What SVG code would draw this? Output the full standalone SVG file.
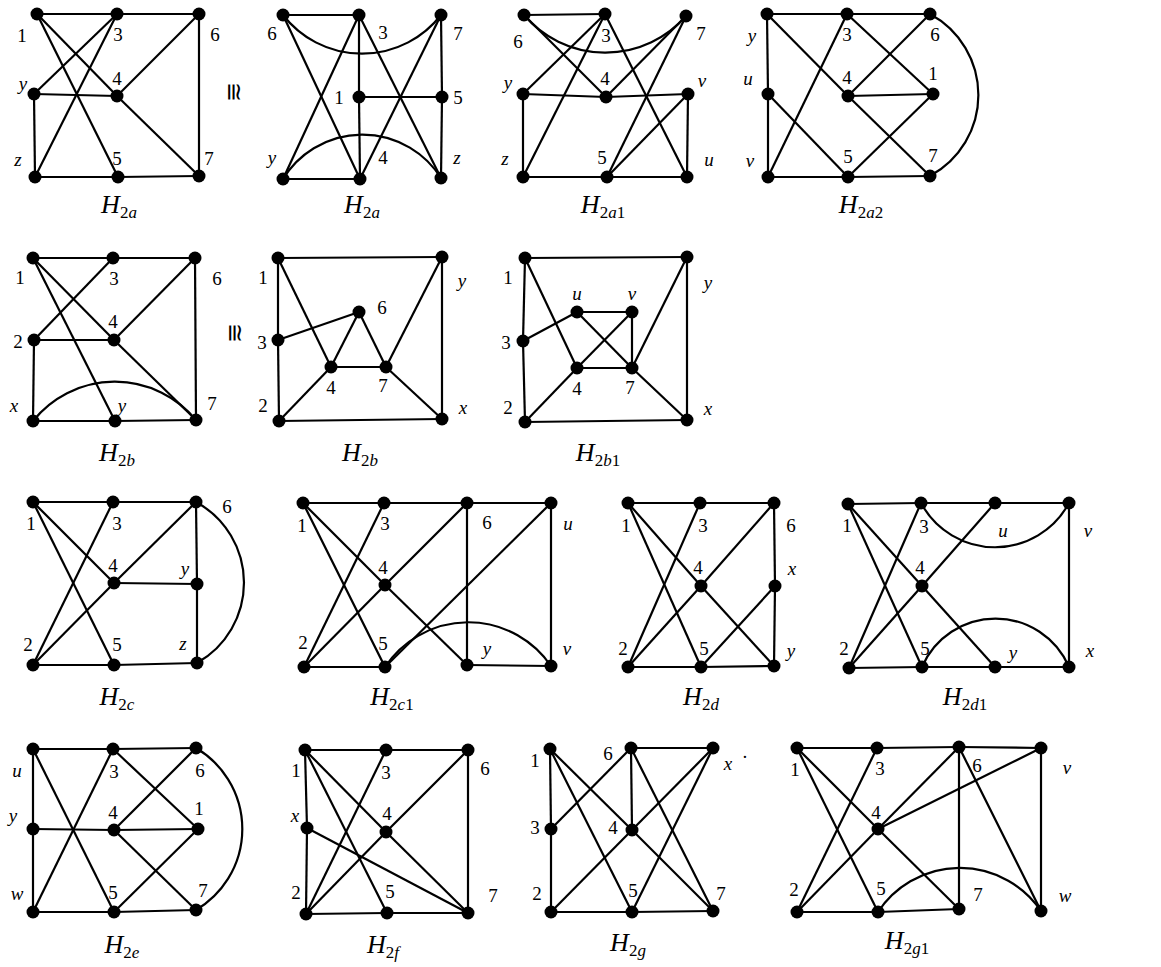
<svg xmlns="http://www.w3.org/2000/svg" width="1161" height="967" viewBox="0 0 1161 967">
<style>
.e line,.e path{stroke:#000;stroke-width:2.2;fill:none}
circle{fill:#000}
text{font-family:"Liberation Serif","DejaVu Serif",serif;fill:#000}
.d{font-size:19px;text-anchor:middle;dominant-baseline:central}
.l{font-size:19px;font-style:italic;text-anchor:middle;dominant-baseline:central}
.t{font-size:26px;font-style:italic;text-anchor:middle}
.s{font-size:17px;font-style:normal}
.si{font-style:italic}
.iso{font-size:24px;text-anchor:middle;dominant-baseline:central}
</style>
<rect width="1161" height="967" fill="#fff"/>

<!-- H2a left -->
<g id="H2a-left">
<g class="e">
<line x1="37" y1="14" x2="117" y2="14"/><line x1="117" y1="14" x2="199" y2="14"/>
<line x1="37" y1="14" x2="117" y2="96"/><line x1="37" y1="14" x2="118" y2="177"/>
<line x1="117" y1="14" x2="34" y2="94"/><line x1="117" y1="14" x2="35" y2="177"/>
<line x1="34" y1="94" x2="117" y2="96"/><line x1="117" y1="96" x2="199" y2="14"/>
<line x1="117" y1="96" x2="199" y2="176"/><line x1="199" y1="14" x2="199" y2="176"/>
<line x1="34" y1="94" x2="35" y2="177"/><line x1="35" y1="177" x2="118" y2="177"/>
<line x1="118" y1="177" x2="199" y2="176"/>
</g>
<g id="a-1"><circle cx="37" cy="14" r="6.5"/><text class="d" x="22" y="35">1</text></g>
<g id="a-3"><circle cx="117" cy="14" r="6.5"/><text class="d" x="118" y="34">3</text></g>
<g id="a-6"><circle cx="199" cy="14" r="6.5"/><text class="d" x="215" y="34">6</text></g>
<g id="a-y"><circle cx="34" cy="94" r="6.5"/><text class="l" x="23" y="83">y</text></g>
<g id="a-4"><circle cx="117" cy="96" r="6.5"/><text class="d" x="117" y="78">4</text></g>
<g id="a-z"><circle cx="35" cy="177" r="6.5"/><text class="l" x="18" y="159">z</text></g>
<g id="a-5"><circle cx="118" cy="177" r="6.5"/><text class="d" x="117" y="158">5</text></g>
<g id="a-7"><circle cx="199" cy="176" r="6.5"/><text class="d" x="209" y="158">7</text></g>
<text class="t" x="119" y="213">H<tspan class="s" dy="5">2<tspan class="si">a</tspan></tspan></text>
</g>
<text class="iso" transform="translate(234,92) rotate(90)">≅</text>

<!-- H2a right -->
<g id="H2a-right">
<g class="e">
<line x1="283" y1="15" x2="359" y2="15"/><line x1="283" y1="15" x2="360" y2="179"/>
<line x1="359" y1="15" x2="283" y2="179"/><line x1="359" y1="15" x2="359" y2="97"/>
<line x1="359" y1="15" x2="441" y2="178"/><line x1="441" y1="15" x2="442" y2="97"/>
<line x1="441" y1="15" x2="360" y2="179"/><line x1="359" y1="97" x2="442" y2="97"/>
<line x1="359" y1="97" x2="360" y2="179"/><line x1="442" y1="97" x2="441" y2="178"/>
<line x1="283" y1="179" x2="360" y2="179"/>
<path d="M283,15 A100,100 0 0 0 441,15"/>
<path d="M283,179 A93,93 0 0 1 441,178"/>
</g>
<g id="b-6"><circle cx="283" cy="15" r="6.5"/><text class="d" x="272" y="33">6</text></g>
<g id="b-3"><circle cx="359" cy="15" r="6.5"/><text class="d" x="383" y="32">3</text></g>
<g id="b-7"><circle cx="441" cy="15" r="6.5"/><text class="d" x="458" y="33">7</text></g>
<g id="b-1"><circle cx="359" cy="97" r="6.5"/><text class="d" x="339" y="97">1</text></g>
<g id="b-5"><circle cx="442" cy="97" r="6.5"/><text class="d" x="458" y="97">5</text></g>
<g id="b-y"><circle cx="283" cy="179" r="6.5"/><text class="l" x="272" y="157">y</text></g>
<g id="b-4"><circle cx="360" cy="179" r="6.5"/><text class="d" x="383" y="157">4</text></g>
<g id="b-z"><circle cx="441" cy="178" r="6.5"/><text class="l" x="457" y="157">z</text></g>
<text class="t" x="362" y="213">H<tspan class="s" dy="5">2<tspan class="si">a</tspan></tspan></text>
</g>

<!-- H2a1 -->
<g id="H2a1">
<g class="e">
<line x1="524" y1="15" x2="605" y2="14"/><line x1="524" y1="15" x2="606" y2="97"/>
<line x1="605" y1="14" x2="523" y2="94"/><line x1="605" y1="14" x2="523" y2="177"/>
<line x1="605" y1="14" x2="687" y2="177"/><line x1="686" y1="16" x2="606" y2="97"/>
<line x1="686" y1="16" x2="607" y2="177"/><line x1="523" y1="94" x2="606" y2="97"/>
<line x1="606" y1="97" x2="688" y2="94"/><line x1="523" y1="94" x2="523" y2="177"/>
<line x1="523" y1="177" x2="607" y2="177"/><line x1="607" y1="177" x2="687" y2="177"/>
<line x1="607" y1="177" x2="688" y2="94"/><line x1="688" y1="94" x2="687" y2="177"/>
<path d="M524,15 A107,107 0 0 0 686,16"/>
</g>
<g id="c-6"><circle cx="524" cy="15" r="6.5"/><text class="d" x="518" y="41">6</text></g>
<g id="c-3"><circle cx="605" cy="14" r="6.5"/><text class="d" x="606" y="35">3</text></g>
<g id="c-7"><circle cx="686" cy="16" r="6.5"/><text class="d" x="701" y="33">7</text></g>
<g id="c-y"><circle cx="523" cy="94" r="6.5"/><text class="l" x="508" y="82">y</text></g>
<g id="c-4"><circle cx="606" cy="97" r="6.5"/><text class="d" x="605" y="78">4</text></g>
<g id="c-v"><circle cx="688" cy="94" r="6.5"/><text class="l" x="702" y="80">v</text></g>
<g id="c-z"><circle cx="523" cy="177" r="6.5"/><text class="l" x="505" y="158">z</text></g>
<g id="c-5"><circle cx="607" cy="177" r="6.5"/><text class="d" x="602" y="157">5</text></g>
<g id="c-u"><circle cx="687" cy="177" r="6.5"/><text class="l" x="709" y="159">u</text></g>
<text class="t" x="603" y="213">H<tspan class="s" dy="5">2<tspan class="si">a</tspan>1</tspan></text>
</g>

<!-- H2a2 -->
<g id="H2a2">
<g class="e">
<line x1="767" y1="14" x2="847" y2="14"/><line x1="847" y1="14" x2="930" y2="14"/>
<line x1="767" y1="14" x2="848" y2="96"/><line x1="767" y1="14" x2="768" y2="94"/>
<line x1="768" y1="94" x2="768" y2="177"/><line x1="847" y1="14" x2="768" y2="177"/>
<line x1="847" y1="14" x2="933" y2="94"/><line x1="930" y1="14" x2="848" y2="96"/>
<line x1="848" y1="96" x2="933" y2="94"/><line x1="848" y1="96" x2="930" y2="176"/>
<line x1="768" y1="94" x2="848" y2="177"/><line x1="848" y1="177" x2="933" y2="94"/>
<line x1="768" y1="177" x2="848" y2="177"/><line x1="848" y1="177" x2="930" y2="176"/>
<path d="M930,14 A92,92 0 0 1 930,176"/>
</g>
<g id="d-y"><circle cx="767" cy="14" r="6.5"/><text class="l" x="752" y="35">y</text></g>
<g id="d-3"><circle cx="847" cy="14" r="6.5"/><text class="d" x="847" y="34">3</text></g>
<g id="d-6"><circle cx="930" cy="14" r="6.5"/><text class="d" x="935" y="34">6</text></g>
<g id="d-u"><circle cx="768" cy="94" r="6.5"/><text class="l" x="748" y="78">u</text></g>
<g id="d-4"><circle cx="848" cy="96" r="6.5"/><text class="d" x="847" y="77">4</text></g>
<g id="d-1"><circle cx="933" cy="94" r="6.5"/><text class="d" x="933" y="73">1</text></g>
<g id="d-v"><circle cx="768" cy="177" r="6.5"/><text class="l" x="750" y="160">v</text></g>
<g id="d-5"><circle cx="848" cy="177" r="6.5"/><text class="d" x="848" y="156">5</text></g>
<g id="d-7"><circle cx="930" cy="176" r="6.5"/><text class="d" x="933" y="155">7</text></g>
<text class="t" x="861" y="213">H<tspan class="s" dy="5">2<tspan class="si">a</tspan>2</tspan></text>
</g>

<!-- H2b left -->
<g id="H2b-left">
<g class="e">
<line x1="33" y1="258" x2="113" y2="258"/><line x1="113" y1="258" x2="195" y2="258"/>
<line x1="33" y1="258" x2="114" y2="340"/><line x1="33" y1="258" x2="115" y2="421"/>
<line x1="113" y1="258" x2="34" y2="340"/><line x1="34" y1="340" x2="114" y2="340"/>
<line x1="114" y1="340" x2="195" y2="258"/><line x1="114" y1="340" x2="196" y2="420"/>
<line x1="195" y1="258" x2="196" y2="420"/><line x1="34" y1="340" x2="33" y2="421"/>
<line x1="33" y1="421" x2="115" y2="421"/><line x1="115" y1="421" x2="196" y2="420"/>
<path d="M33,421 A105,105 0 0 1 196,420"/>
</g>
<g id="e-1"><circle cx="33" cy="258" r="6.5"/><text class="d" x="20" y="277">1</text></g>
<g id="e-3"><circle cx="113" cy="258" r="6.5"/><text class="d" x="114" y="278">3</text></g>
<g id="e-6"><circle cx="195" cy="258" r="6.5"/><text class="d" x="217" y="278">6</text></g>
<g id="e-2"><circle cx="34" cy="340" r="6.5"/><text class="d" x="18" y="341">2</text></g>
<g id="e-4"><circle cx="114" cy="340" r="6.5"/><text class="d" x="113" y="321">4</text></g>
<g id="e-x"><circle cx="33" cy="421" r="6.5"/><text class="l" x="14" y="405">x</text></g>
<g id="e-y"><circle cx="115" cy="421" r="6.5"/><text class="l" x="122" y="405">y</text></g>
<g id="e-7"><circle cx="196" cy="420" r="6.5"/><text class="d" x="212" y="403">7</text></g>
<text class="t" x="117" y="461">H<tspan class="s" dy="5">2<tspan class="si">b</tspan></tspan></text>
</g>
<text class="iso" transform="translate(235,333) rotate(90)">≅</text>

<!-- H2b right -->
<g id="H2b-right">
<g class="e">
<line x1="278" y1="258" x2="442" y2="257"/><line x1="278" y1="258" x2="278" y2="340"/>
<line x1="278" y1="340" x2="279" y2="421"/><line x1="278" y1="258" x2="331" y2="367"/>
<line x1="278" y1="340" x2="359" y2="312"/><line x1="359" y1="312" x2="331" y2="367"/>
<line x1="359" y1="312" x2="386" y2="367"/><line x1="331" y1="367" x2="386" y2="367"/>
<line x1="442" y1="257" x2="386" y2="367"/><line x1="442" y1="257" x2="442" y2="419"/>
<line x1="279" y1="421" x2="331" y2="367"/><line x1="386" y1="367" x2="442" y2="419"/>
<line x1="279" y1="421" x2="442" y2="419"/>
</g>
<g id="f-1"><circle cx="278" cy="258" r="6.5"/><text class="d" x="263" y="277">1</text></g>
<g id="f-y"><circle cx="442" cy="257" r="6.5"/><text class="l" x="462" y="280">y</text></g>
<g id="f-3"><circle cx="278" cy="340" r="6.5"/><text class="d" x="262" y="342">3</text></g>
<g id="f-6"><circle cx="359" cy="312" r="6.5"/><text class="d" x="382" y="307">6</text></g>
<g id="f-4"><circle cx="331" cy="367" r="6.5"/><text class="d" x="331" y="387">4</text></g>
<g id="f-7"><circle cx="386" cy="367" r="6.5"/><text class="d" x="383" y="385">7</text></g>
<g id="f-2"><circle cx="279" cy="421" r="6.5"/><text class="d" x="263" y="405">2</text></g>
<g id="f-x"><circle cx="442" cy="419" r="6.5"/><text class="l" x="463" y="407">x</text></g>
<text class="t" x="360" y="461">H<tspan class="s" dy="5">2<tspan class="si">b</tspan></tspan></text>
</g>

<!-- H2b1 -->
<g id="H2b1">
<g class="e">
<line x1="525" y1="258" x2="687" y2="257"/><line x1="525" y1="258" x2="523" y2="341"/>
<line x1="525" y1="258" x2="577" y2="368"/><line x1="523" y1="341" x2="525" y2="422"/>
<line x1="523" y1="341" x2="577" y2="312"/><line x1="577" y1="312" x2="632" y2="312"/>
<line x1="577" y1="312" x2="632" y2="368"/><line x1="632" y1="312" x2="577" y2="368"/>
<line x1="632" y1="312" x2="632" y2="368"/><line x1="577" y1="368" x2="632" y2="368"/>
<line x1="687" y1="257" x2="632" y2="368"/><line x1="687" y1="257" x2="687" y2="420"/>
<line x1="525" y1="422" x2="577" y2="368"/><line x1="632" y1="368" x2="687" y2="420"/>
<line x1="525" y1="422" x2="687" y2="420"/>
</g>
<g id="g-1"><circle cx="525" cy="258" r="6.5"/><text class="d" x="508" y="277">1</text></g>
<g id="g-y"><circle cx="687" cy="257" r="6.5"/><text class="l" x="708" y="282">y</text></g>
<g id="g-3"><circle cx="523" cy="341" r="6.5"/><text class="d" x="506" y="342">3</text></g>
<g id="g-u"><circle cx="577" cy="312" r="6.5"/><text class="l" x="577" y="293">u</text></g>
<g id="g-v"><circle cx="632" cy="312" r="6.5"/><text class="l" x="632" y="293">v</text></g>
<g id="g-4"><circle cx="577" cy="368" r="6.5"/><text class="d" x="577" y="388">4</text></g>
<g id="g-7"><circle cx="632" cy="368" r="6.5"/><text class="d" x="630" y="387">7</text></g>
<g id="g-2"><circle cx="525" cy="422" r="6.5"/><text class="d" x="508" y="407">2</text></g>
<g id="g-x"><circle cx="687" cy="420" r="6.5"/><text class="l" x="708" y="408">x</text></g>
<text class="t" x="598" y="461">H<tspan class="s" dy="5">2<tspan class="si">b</tspan>1</tspan></text>
</g>

<!-- H2c -->
<g id="H2c">
<g class="e">
<line x1="33" y1="502" x2="113" y2="502"/><line x1="113" y1="502" x2="196" y2="502"/>
<line x1="33" y1="502" x2="114" y2="583"/><line x1="33" y1="502" x2="114" y2="665"/>
<line x1="113" y1="502" x2="33" y2="665"/><line x1="33" y1="665" x2="114" y2="583"/>
<line x1="114" y1="583" x2="196" y2="502"/><line x1="114" y1="583" x2="197" y2="584"/>
<line x1="196" y1="502" x2="197" y2="584"/><line x1="197" y1="584" x2="197" y2="663"/>
<line x1="33" y1="665" x2="114" y2="665"/><line x1="114" y1="665" x2="197" y2="663"/>
<path d="M196,502 A92,92 0 0 1 197,663"/>
</g>
<g id="h-1"><circle cx="33" cy="502" r="6.5"/><text class="d" x="31" y="523">1</text></g>
<g id="h-3"><circle cx="113" cy="502" r="6.5"/><text class="d" x="117" y="523">3</text></g>
<g id="h-6"><circle cx="196" cy="502" r="6.5"/><text class="d" x="227" y="506">6</text></g>
<g id="h-4"><circle cx="114" cy="583" r="6.5"/><text class="d" x="113" y="565">4</text></g>
<g id="h-y"><circle cx="197" cy="584" r="6.5"/><text class="l" x="185" y="568">y</text></g>
<g id="h-2"><circle cx="33" cy="665" r="6.5"/><text class="d" x="28" y="644">2</text></g>
<g id="h-5"><circle cx="114" cy="665" r="6.5"/><text class="d" x="117" y="644">5</text></g>
<g id="h-z"><circle cx="197" cy="663" r="6.5"/><text class="l" x="183" y="643">z</text></g>
<text class="t" x="117" y="705">H<tspan class="s" dy="5">2<tspan class="si">c</tspan></tspan></text>
</g>

<!-- H2c1 -->
<g id="H2c1">
<g class="e">
<line x1="303" y1="503" x2="384" y2="503"/><line x1="384" y1="503" x2="467" y2="503"/>
<line x1="467" y1="503" x2="551" y2="503"/><line x1="303" y1="503" x2="385" y2="585"/>
<line x1="303" y1="503" x2="385" y2="667"/><line x1="384" y1="503" x2="304" y2="667"/>
<line x1="304" y1="667" x2="385" y2="585"/><line x1="385" y1="585" x2="467" y2="503"/>
<line x1="385" y1="585" x2="467" y2="665"/><line x1="467" y1="503" x2="467" y2="665"/>
<line x1="551" y1="503" x2="385" y2="667"/><line x1="551" y1="503" x2="551" y2="666"/>
<line x1="304" y1="667" x2="385" y2="667"/><line x1="467" y1="665" x2="551" y2="666"/>
<path d="M385,667 A100,100 0 0 1 551,666"/>
</g>
<g id="i-1"><circle cx="303" cy="503" r="6.5"/><text class="d" x="302" y="525">1</text></g>
<g id="i-3"><circle cx="384" cy="503" r="6.5"/><text class="d" x="385" y="523">3</text></g>
<g id="i-6"><circle cx="467" cy="503" r="6.5"/><text class="d" x="487" y="522">6</text></g>
<g id="i-u"><circle cx="551" cy="503" r="6.5"/><text class="l" x="568" y="523">u</text></g>
<g id="i-4"><circle cx="385" cy="585" r="6.5"/><text class="d" x="383" y="567">4</text></g>
<g id="i-2"><circle cx="304" cy="667" r="6.5"/><text class="d" x="303" y="642">2</text></g>
<g id="i-5"><circle cx="385" cy="667" r="6.5"/><text class="d" x="383" y="643">5</text></g>
<g id="i-y"><circle cx="467" cy="665" r="6.5"/><text class="l" x="487" y="648">y</text></g>
<g id="i-v"><circle cx="551" cy="666" r="6.5"/><text class="l" x="567" y="648">v</text></g>
<text class="t" x="392" y="705">H<tspan class="s" dy="5">2<tspan class="si">c</tspan>1</tspan></text>
</g>

<!-- H2d -->
<g id="H2d">
<g class="e">
<line x1="628" y1="503" x2="700" y2="503"/><line x1="700" y1="503" x2="774" y2="503"/>
<line x1="628" y1="503" x2="701" y2="586"/><line x1="628" y1="503" x2="701" y2="667"/>
<line x1="700" y1="503" x2="628" y2="667"/><line x1="628" y1="667" x2="701" y2="586"/>
<line x1="701" y1="586" x2="774" y2="503"/><line x1="701" y1="586" x2="774" y2="666"/>
<line x1="774" y1="503" x2="775" y2="586"/><line x1="775" y1="586" x2="774" y2="666"/>
<line x1="775" y1="586" x2="701" y2="667"/><line x1="628" y1="667" x2="701" y2="667"/>
<line x1="701" y1="667" x2="774" y2="666"/>
</g>
<g id="j-1"><circle cx="628" cy="503" r="6.5"/><text class="d" x="626" y="525">1</text></g>
<g id="j-3"><circle cx="700" cy="503" r="6.5"/><text class="d" x="703" y="525">3</text></g>
<g id="j-6"><circle cx="774" cy="503" r="6.5"/><text class="d" x="791" y="525">6</text></g>
<g id="j-4"><circle cx="701" cy="586" r="6.5"/><text class="d" x="698" y="567">4</text></g>
<g id="j-x"><circle cx="775" cy="586" r="6.5"/><text class="l" x="792" y="568">x</text></g>
<g id="j-2"><circle cx="628" cy="667" r="6.5"/><text class="d" x="623" y="648">2</text></g>
<g id="j-5"><circle cx="701" cy="667" r="6.5"/><text class="d" x="704" y="648">5</text></g>
<g id="j-y"><circle cx="774" cy="666" r="6.5"/><text class="l" x="791" y="650">y</text></g>
<text class="t" x="701" y="705">H<tspan class="s" dy="5">2<tspan class="si">d</tspan></tspan></text>
</g>

<!-- H2d1 -->
<g id="H2d1">
<g class="e">
<line x1="848" y1="504" x2="921" y2="503"/><line x1="921" y1="503" x2="995" y2="503"/>
<line x1="995" y1="503" x2="1069" y2="503"/><line x1="848" y1="504" x2="922" y2="586"/>
<line x1="848" y1="504" x2="922" y2="667"/><line x1="921" y1="503" x2="849" y2="668"/>
<line x1="849" y1="668" x2="922" y2="586"/><line x1="922" y1="586" x2="995" y2="503"/>
<line x1="922" y1="586" x2="995" y2="667"/><line x1="1069" y1="503" x2="1069" y2="667"/>
<line x1="849" y1="668" x2="922" y2="667"/><line x1="922" y1="667" x2="995" y2="667"/>
<line x1="995" y1="667" x2="1069" y2="667"/>
<path d="M921,503 A84,84 0 0 0 1069,503"/>
<path d="M922,667 A80,80 0 0 1 1069,667"/>
</g>
<g id="k-1"><circle cx="848" cy="504" r="6.5"/><text class="d" x="847" y="525">1</text></g>
<g id="k-3"><circle cx="921" cy="503" r="6.5"/><text class="d" x="924" y="526">3</text></g>
<g id="k-u"><circle cx="995" cy="503" r="6.5"/><text class="l" x="1003" y="530">u</text></g>
<g id="k-v"><circle cx="1069" cy="503" r="6.5"/><text class="l" x="1088" y="530">v</text></g>
<g id="k-4"><circle cx="922" cy="586" r="6.5"/><text class="d" x="920" y="567">4</text></g>
<g id="k-2"><circle cx="849" cy="668" r="6.5"/><text class="d" x="844" y="648">2</text></g>
<g id="k-5"><circle cx="922" cy="667" r="6.5"/><text class="d" x="925" y="648">5</text></g>
<g id="k-y"><circle cx="995" cy="667" r="6.5"/><text class="l" x="1013" y="652">y</text></g>
<g id="k-x"><circle cx="1069" cy="667" r="6.5"/><text class="l" x="1090" y="650">x</text></g>
<text class="t" x="965" y="705">H<tspan class="s" dy="5">2<tspan class="si">d</tspan>1</tspan></text>
</g>

<!-- H2e -->
<g id="H2e">
<g class="e">
<line x1="33" y1="749" x2="113" y2="749"/><line x1="113" y1="749" x2="196" y2="748"/>
<line x1="33" y1="749" x2="114" y2="912"/><line x1="33" y1="749" x2="33" y2="829"/>
<line x1="33" y1="829" x2="33" y2="912"/><line x1="113" y1="749" x2="33" y2="912"/>
<line x1="113" y1="749" x2="198" y2="829"/><line x1="33" y1="829" x2="114" y2="830"/>
<line x1="114" y1="830" x2="198" y2="829"/><line x1="114" y1="830" x2="196" y2="748"/>
<line x1="114" y1="830" x2="196" y2="910"/><line x1="114" y1="912" x2="198" y2="829"/>
<line x1="33" y1="912" x2="114" y2="912"/><line x1="114" y1="912" x2="196" y2="910"/>
<path d="M196,748 A94,94 0 0 1 196,910"/>
</g>
<g id="l-u"><circle cx="33" cy="749" r="6.5"/><text class="l" x="17" y="770">u</text></g>
<g id="l-3"><circle cx="113" cy="749" r="6.5"/><text class="d" x="114" y="771">3</text></g>
<g id="l-6"><circle cx="196" cy="748" r="6.5"/><text class="d" x="200" y="770">6</text></g>
<g id="l-y"><circle cx="33" cy="829" r="6.5"/><text class="l" x="13" y="815">y</text></g>
<g id="l-4"><circle cx="114" cy="830" r="6.5"/><text class="d" x="113" y="812">4</text></g>
<g id="l-1"><circle cx="198" cy="829" r="6.5"/><text class="d" x="199" y="808">1</text></g>
<g id="l-w"><circle cx="33" cy="912" r="6.5"/><text class="l" x="17" y="893">w</text></g>
<g id="l-5"><circle cx="114" cy="912" r="6.5"/><text class="d" x="113" y="892">5</text></g>
<g id="l-7"><circle cx="196" cy="910" r="6.5"/><text class="d" x="203" y="890">7</text></g>
<text class="t" x="122" y="953">H<tspan class="s" dy="5">2<tspan class="si">e</tspan></tspan></text>
</g>

<!-- H2f -->
<g id="H2f">
<g class="e">
<line x1="305" y1="750" x2="386" y2="750"/><line x1="386" y1="750" x2="468" y2="750"/>
<line x1="305" y1="750" x2="307" y2="828"/><line x1="307" y1="828" x2="306" y2="914"/>
<line x1="305" y1="750" x2="386" y2="832"/><line x1="305" y1="750" x2="387" y2="913"/>
<line x1="386" y1="750" x2="306" y2="914"/><line x1="306" y1="914" x2="386" y2="832"/>
<line x1="386" y1="832" x2="468" y2="750"/><line x1="386" y1="832" x2="468" y2="913"/>
<line x1="307" y1="828" x2="468" y2="913"/><line x1="468" y1="750" x2="468" y2="913"/>
<line x1="306" y1="914" x2="387" y2="913"/><line x1="387" y1="913" x2="468" y2="913"/>
</g>
<g id="m-1"><circle cx="305" cy="750" r="6.5"/><text class="d" x="296" y="770">1</text></g>
<g id="m-3"><circle cx="386" cy="750" r="6.5"/><text class="d" x="386" y="772">3</text></g>
<g id="m-6"><circle cx="468" cy="750" r="6.5"/><text class="d" x="485" y="768">6</text></g>
<g id="m-x"><circle cx="307" cy="828" r="6.5"/><text class="l" x="295" y="815">x</text></g>
<g id="m-4"><circle cx="386" cy="832" r="6.5"/><text class="d" x="387" y="813">4</text></g>
<g id="m-2"><circle cx="306" cy="914" r="6.5"/><text class="d" x="296" y="892">2</text></g>
<g id="m-5"><circle cx="387" cy="913" r="6.5"/><text class="d" x="390" y="891">5</text></g>
<g id="m-7"><circle cx="468" cy="913" r="6.5"/><text class="d" x="493" y="895">7</text></g>
<text class="t" x="383" y="953">H<tspan class="s" dy="5">2<tspan class="si">f</tspan></tspan></text>
</g>

<!-- H2g -->
<g id="H2g">
<g class="e">
<line x1="550" y1="749" x2="551" y2="829"/><line x1="551" y1="829" x2="551" y2="912"/>
<line x1="550" y1="749" x2="632" y2="830"/><line x1="550" y1="749" x2="632" y2="912"/>
<line x1="551" y1="829" x2="631" y2="748"/><line x1="631" y1="748" x2="713" y2="748"/>
<line x1="631" y1="748" x2="632" y2="830"/><line x1="631" y1="748" x2="713" y2="911"/>
<line x1="713" y1="748" x2="632" y2="830"/><line x1="713" y1="748" x2="632" y2="912"/>
<line x1="551" y1="912" x2="632" y2="830"/><line x1="632" y1="830" x2="713" y2="911"/>
<line x1="551" y1="912" x2="632" y2="912"/><line x1="632" y1="912" x2="713" y2="911"/>
</g>
<g id="n-1"><circle cx="550" cy="749" r="6.5"/><text class="d" x="535" y="760">1</text></g>
<g id="n-6"><circle cx="631" cy="748" r="6.5"/><text class="d" x="608" y="753">6</text></g>
<g id="n-x"><circle cx="713" cy="748" r="6.5"/><text class="l" x="728" y="763">x</text><text class="d" x="745" y="756">·</text></g>
<g id="n-3"><circle cx="551" cy="829" r="6.5"/><text class="d" x="535" y="827">3</text></g>
<g id="n-4"><circle cx="632" cy="830" r="6.5"/><text class="d" x="613" y="827">4</text></g>
<g id="n-2"><circle cx="551" cy="912" r="6.5"/><text class="d" x="537" y="893">2</text></g>
<g id="n-5"><circle cx="632" cy="912" r="6.5"/><text class="d" x="633" y="890">5</text></g>
<g id="n-7"><circle cx="713" cy="911" r="6.5"/><text class="d" x="721" y="893">7</text></g>
<text class="t" x="628" y="951">H<tspan class="s" dy="5">2<tspan class="si">g</tspan></tspan></text>
</g>

<!-- H2g1 -->
<g id="H2g1">
<g class="e">
<line x1="797" y1="748" x2="877" y2="748"/><line x1="877" y1="748" x2="959" y2="747"/>
<line x1="959" y1="747" x2="1041" y2="748"/><line x1="797" y1="748" x2="878" y2="829"/>
<line x1="797" y1="748" x2="878" y2="912"/><line x1="877" y1="748" x2="797" y2="912"/>
<line x1="797" y1="912" x2="878" y2="829"/><line x1="878" y1="829" x2="959" y2="747"/>
<line x1="878" y1="829" x2="1041" y2="748"/><line x1="878" y1="829" x2="959" y2="909"/>
<line x1="959" y1="747" x2="959" y2="909"/><line x1="959" y1="747" x2="1041" y2="911"/>
<line x1="1041" y1="748" x2="1041" y2="911"/><line x1="797" y1="912" x2="878" y2="912"/>
<line x1="878" y1="912" x2="959" y2="909"/>
<path d="M878,912 A98,98 0 0 1 1041,911"/>
</g>
<g id="o-1"><circle cx="797" cy="748" r="6.5"/><text class="d" x="795" y="769">1</text></g>
<g id="o-3"><circle cx="877" cy="748" r="6.5"/><text class="d" x="880" y="768">3</text></g>
<g id="o-6"><circle cx="959" cy="747" r="6.5"/><text class="d" x="977" y="765">6</text></g>
<g id="o-v"><circle cx="1041" cy="748" r="6.5"/><text class="l" x="1067" y="767">v</text></g>
<g id="o-4"><circle cx="878" cy="829" r="6.5"/><text class="d" x="876" y="812">4</text></g>
<g id="o-2"><circle cx="797" cy="912" r="6.5"/><text class="d" x="794" y="889">2</text></g>
<g id="o-5"><circle cx="878" cy="912" r="6.5"/><text class="d" x="881" y="888">5</text></g>
<g id="o-7"><circle cx="959" cy="909" r="6.5"/><text class="d" x="978" y="894">7</text></g>
<g id="o-w"><circle cx="1041" cy="911" r="6.5"/><text class="l" x="1065" y="895">w</text></g>
<text class="t" x="907" y="949">H<tspan class="s" dy="5">2<tspan class="si">g</tspan>1</tspan></text>
</g>
</svg>
